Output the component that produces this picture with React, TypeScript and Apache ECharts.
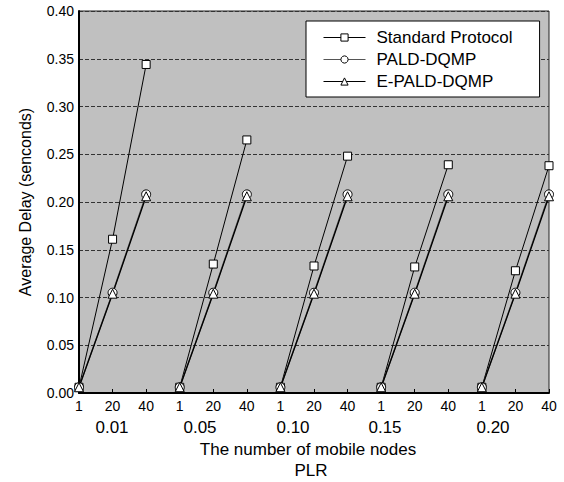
import React, { useEffect, useRef } from "react";
import * as echarts from "echarts";

const plrGroups = ["0.01", "0.05", "0.10", "0.15", "0.20"];
const nodeCounts = ["1", "20", "40"];
const standardProtocol = [
  [0.006, 0.161, 0.344],
  [0.006, 0.135, 0.265],
  [0.006, 0.133, 0.248],
  [0.006, 0.132, 0.239],
  [0.006, 0.128, 0.238],
];
const paldDqmp = [
  [0.006, 0.105, 0.208],
  [0.006, 0.105, 0.208],
  [0.006, 0.105, 0.208],
  [0.006, 0.105, 0.208],
  [0.006, 0.105, 0.208],
];
const ePaldDqmp = [
  [0.006, 0.104, 0.206],
  [0.006, 0.104, 0.206],
  [0.006, 0.104, 0.206],
  [0.006, 0.104, 0.206],
  [0.006, 0.104, 0.206],
];
const yTicks = { min: 0, max: 0.4, interval: 0.05 };

const FONT = "'Liberation Sans', Arial, sans-serif";

export default function App() {
  const ref = useRef<HTMLDivElement>(null);
  useEffect(() => {
    if (!ref.current) return;
    const chart = echarts.init(ref.current, null, { renderer: "svg" });
    const categories: string[] = [];
    plrGroups.forEach(() => nodeCounts.forEach((n) => categories.push(n)));
    const nPer = nodeCounts.length;

    const methods = [
      { name: "Standard Protocol", data: standardProtocol, symbol: "rect", size: 8, color: "#000", width: 1 },
      { name: "PALD-DQMP", data: paldDqmp, symbol: "circle", size: 9, color: "#555", width: 1.3 },
      { name: "E-PALD-DQMP", data: ePaldDqmp, symbol: "triangle", size: 9, color: "#000", width: 1.3 },
    ];

    const series: any[] = [];
    methods.forEach((m) => {
      m.data.forEach((vals, g) => {
        const arr: (number | string)[] = categories.map(() => "-");
        vals.forEach((v, i) => {
          arr[g * nPer + i] = v;
        });
        series.push({
          name: m.name,
          type: "line",
          data: arr,
          symbol: m.symbol,
          symbolSize: m.size,
          showAllSymbol: true,
          connectNulls: false,
          lineStyle: { color: m.color, width: m.width },
          itemStyle: { color: "#fff", borderColor: "#000", borderWidth: 1 },
          emphasis: { disabled: true },
          z: 3,
        });
      });
    });

    const groupX = [112, 200, 293, 385, 493];

    chart.setOption({
      animation: false,
      textStyle: { fontFamily: FONT },
      grid: {
        left: 79,
        top: 11,
        right: 15,
        bottom: 89,
        show: true,
        backgroundColor: "#c0c0c0",
        borderColor: "#222",
        borderWidth: 1,
      },
      legend: {
        data: methods.map((m) => m.name),
        orient: "vertical",
        left: 306,
        top: 21,
        padding: [8, 27, 7, 17],
        backgroundColor: "#fff",
        borderColor: "#000",
        borderWidth: 1,
        borderRadius: 0,
        itemWidth: 42,
        itemHeight: 9,
        itemGap: 5,
        lineStyle: { width: 1 },
        itemStyle: { borderWidth: 1 },
        textStyle: { fontSize: 17, color: "#000", fontFamily: FONT, lineHeight: 17, padding: [0, 0, 0, 6] },
      },
      xAxis: {
        type: "category",
        data: categories,
        boundaryGap: false,
        axisLine: { show: true, lineStyle: { color: "#000", width: 2 } },
        axisTick: { show: true, inside: true, length: 4, lineStyle: { color: "#000" } },
        axisLabel: { fontSize: 14, color: "#000", margin: 6, interval: 0, fontFamily: FONT },
        splitLine: { show: false },
      },
      yAxis: {
        type: "value",
        min: yTicks.min,
        max: yTicks.max,
        interval: yTicks.interval,
        name: "Average Delay (senconds)",
        nameLocation: "middle",
        nameGap: 46,
        nameTextStyle: { fontSize: 16, color: "#000", fontFamily: FONT },
        axisLine: { show: true, lineStyle: { color: "#000", width: 2 } },
        axisTick: { show: false },
        axisLabel: {
          fontSize: 14,
          color: "#000",
          margin: 5,
          fontFamily: FONT,
          formatter: (v: number) => v.toFixed(2),
        },
        splitLine: { show: true, lineStyle: { color: "#333", type: "dashed", width: 1 } },
      },
      graphic: [
        ...plrGroups.map((g, i) => ({
          type: "text",
          x: groupX[i],
          y: 427,
          style: {
            text: g,
            fontSize: 17,
            fill: "#000",
            fontFamily: FONT,
            textAlign: "center",
            textVerticalAlign: "middle",
          },
        })),
        {
          type: "text",
          x: 308,
          y: 449,
          style: {
            text: "The number of mobile nodes",
            fontSize: 17,
            fill: "#000",
            fontFamily: FONT,
            textAlign: "center",
            textVerticalAlign: "middle",
          },
        },
        {
          type: "text",
          x: 311,
          y: 470,
          style: {
            text: "PLR",
            fontSize: 17,
            fill: "#000",
            fontFamily: FONT,
            textAlign: "center",
            textVerticalAlign: "middle",
          },
        },
      ],
      series,
    });
    return () => chart.dispose();
  }, []);
  return (
    <div
      ref={ref}
      style={{ position: "fixed", left: 0, top: 0, width: 564, height: 482, background: "#fff" }}
    />
  );
}
